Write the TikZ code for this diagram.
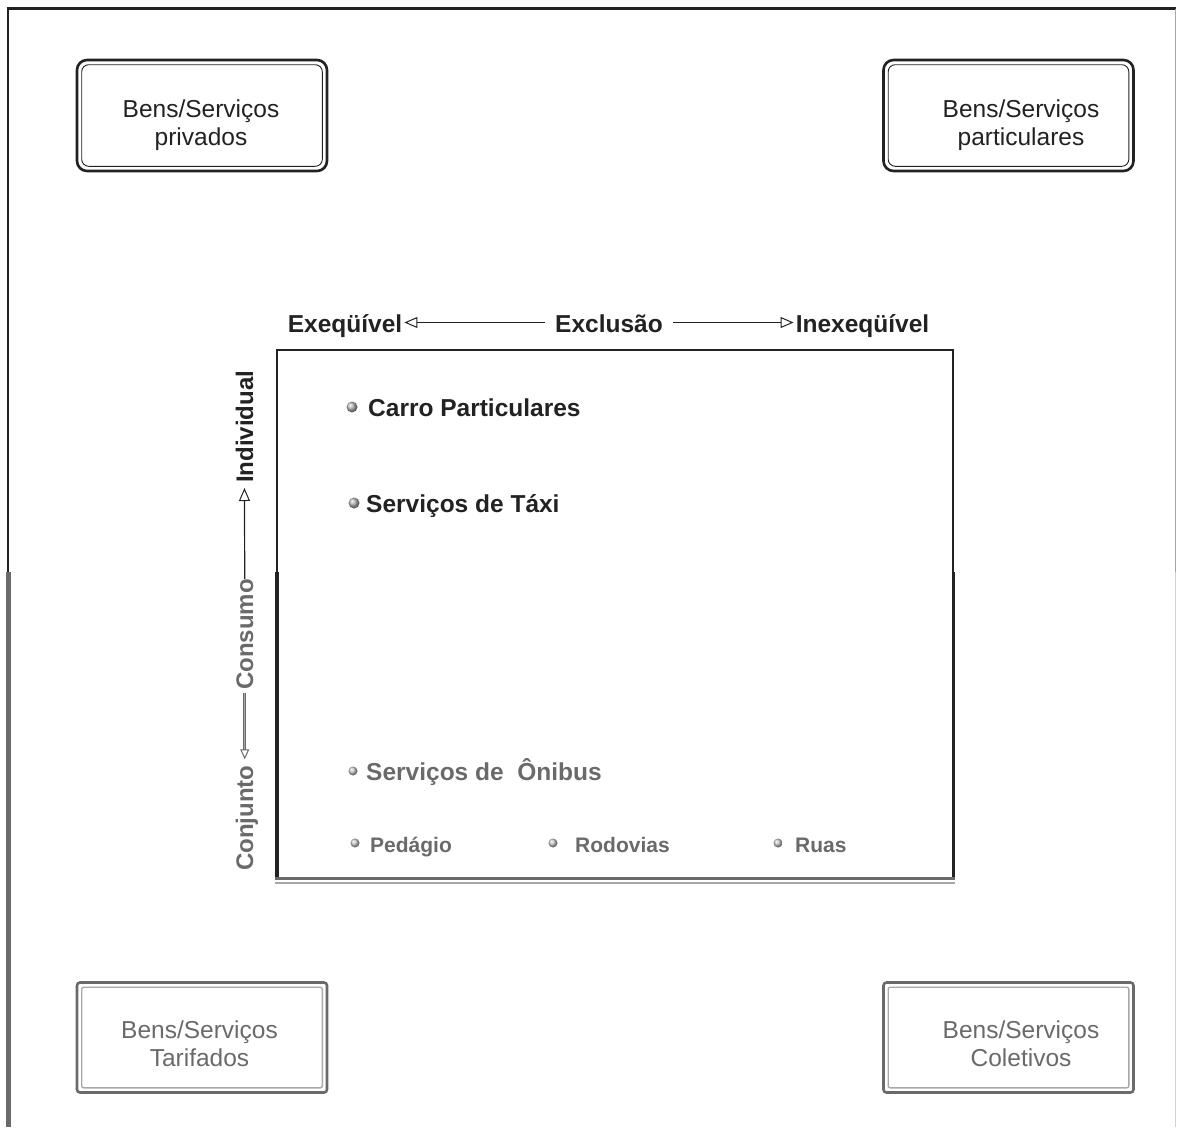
\documentclass[tikz,border=0pt]{standalone}
\usepackage{fontspec}
\setmainfont{Liberation Sans}
\usetikzlibrary{arrows.meta,shadings}
\definecolor{ink}{HTML}{222222}
\definecolor{fade}{HTML}{6A6A6A}
\definecolor{lightfade}{HTML}{A8A8A8}
\tikzset{
  big/.style={font=\fontsize{24.5}{28}\selectfont, align=center, inner sep=0pt},
  bigb/.style={font=\fontsize{24.5}{28}\selectfont\bfseries},
  vertb/.style={font=\fontsize{24}{28}\selectfont\bfseries, rotate=90, anchor=base west, inner sep=0pt},
  smallb/.style={font=\fontsize{21}{25}\selectfont\bfseries, text=fade, anchor=base west, inner sep=0pt},
  item/.style={bigb, anchor=base west, inner sep=0pt},
  topbox/.style={draw=ink, line width=2.6pt, rounded corners=10pt, minimum width=250pt,
    minimum height=111pt, inner sep=0pt},
  botbox/.style={draw=fade, line width=2.6pt, rounded corners=3pt, minimum width=250pt,
    minimum height=110pt, inner sep=0pt},
  innerline/.style={draw=ink, line width=0.9pt, rounded corners=7pt},
  innerfade/.style={draw=lightfade, line width=1.4pt, rounded corners=2pt},
  openarrow/.style={-{Triangle[open,length=13pt,width=11pt,line width=1pt]}, line width=1.2pt, draw=ink},
  fadearrow/.style={-{Triangle[open,length=10pt,width=9pt]}, line width=1pt, draw=fade,
    double=lightfade, double distance=1.4pt},
  bulletball/.style={ball color=gray!55},
}
\begin{document}
\begin{tikzpicture}[x=1pt,y=-1pt]
\useasboundingbox (0,0) rectangle (1177,1127);

% outer frame
\draw[ink, line width=2.2pt] (6.5,8.5) -- (1176,8.5);
\draw[ink, line width=2.2pt] (8,8.5) -- (8,572);
\draw[fade, line width=4.5pt] (8.5,572) -- (8.5,1127);
\draw[gray!70, line width=1.4pt] (1175.5,8.5) -- (1175.5,572);
\draw[gray!35, line width=1.2pt] (1175.5,572) -- (1175.5,1127);

% top boxes
\node[topbox] (priv) at (202,115.5) {};
\draw[innerline] ([shift={(6,6)}]priv.north west) rectangle ([shift={(-6,-6)}]priv.south east);
\node[big, text=ink] (privt) at (201,125.5) {Bens/Serviços\\privados};
\node[topbox] (part) at (1008.5,115.5) {};
\draw[innerline] ([shift={(6,6)}]part.north west) rectangle ([shift={(-6,-6)}]part.south east);
\node[big, text=ink] (partt) at (1021,125.5) {Bens/Serviços\\particulares};

% bottom boxes
\node[botbox] (tar) at (202,1037.5) {};
\draw[innerfade] ([shift={(6,6)}]tar.north west) rectangle ([shift={(-6,-6)}]tar.south east);
\node[big, text=fade] (tart) at (199.5,1044) {Bens/Serviços\\Tarifados};
\node[botbox] (col) at (1008.5,1037.5) {};
\draw[innerfade] ([shift={(6,6)}]col.north west) rectangle ([shift={(-6,-6)}]col.south east);
\node[big, text=fade] (colt) at (1021,1044) {Bens/Serviços\\Coletivos};

% header
\node[bigb, anchor=base, inner sep=0pt, text=ink] (exe) at (345,332) {Exeqüível};
\node[bigb, anchor=base, inner sep=0pt, text=ink] (exc) at (609,332) {Exclusão};
\node[bigb, anchor=base, inner sep=0pt, text=ink] (inex) at (862.5,332) {Inexeqüível};
\draw[openarrow, shorten <=10pt, shorten >=2pt] ([yshift=9.5pt]exc.base west) -- ([yshift=9.5pt]exe.base east);
\draw[openarrow, shorten <=10pt, shorten >=2pt] ([yshift=9.5pt]exc.base east) -- ([yshift=9.5pt]inex.base west);

% main box
\draw[ink, line width=1.8pt] (277,350) -- (953,350);
\draw[ink, line width=1.8pt] (277,349.1) -- (277,572);
\draw[ink, line width=1.8pt] (953,349.1) -- (953,572);
\draw[ink, line width=3.4pt] (277,572) -- (277,880);
\draw[ink, line width=3pt] (953,572) -- (953,880);
\draw[fade, line width=3pt] (275.3,878.5) -- (954.5,878.5);
\draw[lightfade, line width=1.2pt] (275.3,883) -- (954.5,883);

% vertical axis
\node[vertb, text=ink] (ind) at (253,483) {Individual};
\node[vertb, text=fade] (cons) at (253,690) {Consumo};
\node[vertb, text=fade] (conj) at (253,871) {Conjunto};
\draw[openarrow, shorten >=5pt] (cons.east) -- (ind.west);
\draw[fadearrow, shorten <=3pt, shorten >=6pt] (cons.west) -- (cons.west |- conj.east);

% items
\shade[bulletball] (352,407) circle (5.5pt);
\node[item, text=ink] (carro) at (368,416) {Carro Particulares};
\shade[bulletball] (354,503) circle (5.5pt);
\node[item, text=ink] (taxi) at (366,512) {Serviços de Táxi};
\shade[ball color=gray!40] (353,771) circle (4.5pt);
\node[item, text=fade] (onibus) at (366,780) {Serviços de\ \ Ônibus};
\shade[ball color=gray!40] (355,843) circle (4.5pt);
\node[smallb] (ped) at (370,852) {Pedágio};
\shade[ball color=gray!40] (553,843) circle (4.5pt);
\node[smallb] (rod) at (575,852) {Rodovias};
\shade[ball color=gray!40] (778,843) circle (4.5pt);
\node[smallb] (ruas) at (795,852) {Ruas};
\end{tikzpicture}
\end{document}
